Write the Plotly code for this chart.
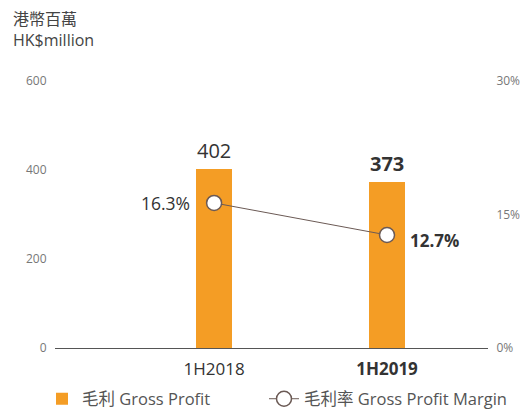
import plotly.graph_objects as go

categories = ["1H2018", "1H2019"]
tick_text = ["1H2018", "<b>1H2019</b>"]
gross_profit = [402, 373]
gross_margin = [16.3, 12.7]
profit_labels = ["402", "<b>373</b>"]
margin_labels = ["16.3%", "<b>12.7%</b>"]
left_ticks = [0, 200, 400, 600]
right_ticks = [0, 15, 30]
right_tick_text = ["0%", "15%", "30%"]

FONT = "Open Sans, Noto Sans CJK TC, sans-serif"
TXT = "#444444"
AX = "#777777"
ORANGE = "#F49D25"
LINEC = "#6B5A55"

PW, PH = 433, 267  # plot area size in px
OFF = 8  # page body margin

fig = go.Figure()
fig.add_trace(go.Bar(
    x=categories, y=gross_profit, name="毛利 Gross Profit",
    marker=dict(color=ORANGE, line=dict(width=0)), width=0.205,
    yaxis="y", hoverinfo="skip", legend="legend",
))
fig.add_trace(go.Scatter(
    x=categories, y=gross_margin, name="毛利率 Gross Profit Margin",
    mode="lines+markers", yaxis="y2",
    line=dict(color=LINEC, width=1),
    marker=dict(size=15, color="white", line=dict(color=LINEC, width=1.5)),
    hoverinfo="skip", legend="legend2",
))

# value labels
for c, v, t in zip(categories, gross_profit, profit_labels):
    fig.add_annotation(x=c, y=v, xref="x", yref="y", text=t, showarrow=False,
                       yanchor="bottom", yshift=3,
                       font=dict(size=20, color="#333333", family=FONT))
fig.add_annotation(x=categories[0], y=gross_margin[0], xref="x", yref="y2",
                   text=margin_labels[0], showarrow=False, xanchor="right",
                   xshift=-22, font=dict(size=17.5, color="#333333", family=FONT))
fig.add_annotation(x=categories[1], y=gross_margin[1], xref="x", yref="y2",
                   text=margin_labels[1], showarrow=False, xanchor="left",
                   xshift=21, yshift=-6, font=dict(size=17, color="#333333", family=FONT))

# unit titles
for txt, ypx in [("港幣百萬", 19), ("HK$million", 40)]:
    fig.add_annotation(text=txt, xref="paper", yref="paper",
                       x=-43 / PW, y=1 + (81 - ypx) / PH, xanchor="left",
                       yanchor="middle", showarrow=False, borderpad=0,
                       font=dict(size=16, color="#444444", family=FONT))

legend_font = dict(size=16.5, color="#555555", family=FONT)
legend_y = -(399 - 348) / PH

fig.update_layout(
    width=529 - OFF, height=411 - OFF,
    margin=dict(l=55 - OFF, r=41, t=81 - OFF, b=63, autoexpand=False),
    paper_bgcolor="white", plot_bgcolor="white",
    font=dict(family=FONT, color=TXT),
    bargap=0,
    showlegend=True,
    legend=dict(orientation="h", x=-13 / PW, xanchor="left",
                y=legend_y, yanchor="middle", font=legend_font,
                bgcolor="rgba(0,0,0,0)"),
    legend2=dict(orientation="h", x=(264 - 55) / PW, xanchor="left",
                 y=legend_y, yanchor="middle", font=legend_font,
                 bgcolor="rgba(0,0,0,0)"),
    xaxis=dict(range=[-0.92, 1.584], tickmode="array", tickvals=categories,
               ticktext=tick_text, showgrid=False, zeroline=False,
               showline=True, linecolor="#555555", linewidth=1,
               ticks="outside", ticklen=6, tickcolor="rgba(0,0,0,0)",
               tickfont=dict(size=17, color="#333333", family=FONT)),
    yaxis=dict(range=[0, 600], tickvals=left_ticks, showgrid=False,
               zeroline=False, showline=False, ticks="outside", ticklen=5,
               tickcolor="rgba(0,0,0,0)",
               tickfont=dict(size=12, color=AX, family=FONT)),
    yaxis2=dict(range=[0, 30], tickvals=right_ticks, ticktext=right_tick_text,
                overlaying="y", side="right", showgrid=False, zeroline=False,
                showline=False, ticks="outside", ticklen=5,
                tickcolor="rgba(0,0,0,0)",
                tickfont=dict(size=12, color=AX, family=FONT)),
)

fig.write_html("out.html")
